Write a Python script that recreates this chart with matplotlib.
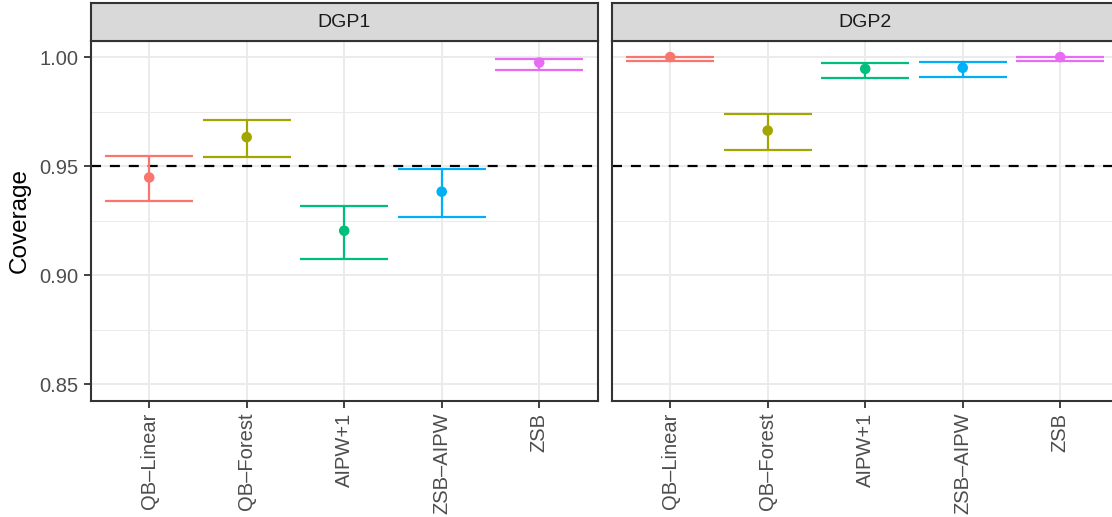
import numpy as np
import matplotlib
matplotlib.use("Agg")
import matplotlib.pyplot as plt

plt.rcParams['font.family'] = ['Liberation Sans', 'DejaVu Sans']

# data
methods = ['QB\u2013Linear', 'QB\u2013Forest', 'AIPW+1', 'ZSB\u2013AIPW', 'ZSB']
colors = ['#F8766D', '#A3A500', '#00BF7D', '#00B0F6', '#E76BF3']
panels = ['DGP1', 'DGP2']

dgp1_cov = [0.9448, 0.9633, 0.9204, 0.9383, 0.9975]
dgp1_lo = [0.9340, 0.9541, 0.9076, 0.9268, 0.9942]
dgp1_hi = [0.9546, 0.9712, 0.9318, 0.9485, 0.9992]

dgp2_cov = [1.0000, 0.9663, 0.9946, 0.9951, 1.0000]
dgp2_lo = [0.9980, 0.9575, 0.9902, 0.9908, 0.9980]
dgp2_hi = [1.0000, 0.9738, 0.9974, 0.9977, 0.9999]

nominal = 0.95
yticks = [0.85, 0.90, 0.95, 1.00]
yminor = [0.875, 0.925, 0.975]

W, H = 1112, 517
fig = plt.figure(figsize=(W / 100, H / 100), dpi=100)

def px(x0, y0, x1, y1):
    # pixel box (top-left origin) -> figure fraction rect
    return [x0 / W, 1 - y1 / H, (x1 - x0) / W, (y1 - y0) / H]

panel_x = [(90.7, 597.7), (611.7, 1118.7)]
top, bottom, strip_top = 40.7, 400.7, 2.7
data = [(dgp1_cov, dgp1_lo, dgp1_hi), (dgp2_cov, dgp2_lo, dgp2_hi)]

grid_c = '#EBEBEB'
border_c = '#333333'
lw = 1.6

for i, (name, (x0, x1), (cov, lo, hi)) in enumerate(zip(panels, panel_x, data)):
    ax = fig.add_axes(px(x0, top, x1, bottom))
    pos = np.arange(1, len(methods) + 1)
    ax.set_xlim(0.4, len(methods) + 0.6)
    ax.set_ylim(0.8425, 1.0075)

    for y in yticks:
        ax.axhline(y, color=grid_c, lw=1.4, zorder=0)
    for y in yminor:
        ax.axhline(y, color=grid_c, lw=0.75, zorder=0)
    for x in pos:
        ax.axvline(x, color=grid_c, lw=1.4, zorder=0)

    ax.axhline(nominal, color='black', lw=lw, linestyle=(0, (4.5, 4)), zorder=2)

    # error bars: stem + caps of width 0.9 (ggplot default)
    ax.vlines(pos, lo, hi, colors=colors, lw=lw, zorder=3)
    ax.hlines(lo, pos - 0.45, pos + 0.45, colors=colors, lw=lw, zorder=3)
    ax.hlines(hi, pos - 0.45, pos + 0.45, colors=colors, lw=lw, zorder=3)
    ax.scatter(pos, cov, s=7.6 ** 2, c=colors, edgecolors='none', zorder=4)

    ax.set_xticks(pos)
    ax.set_xticklabels(methods, rotation=90, fontsize=14.5, color='#4D4D4D',
                       va='top', ha='center')
    ax.set_yticks(yticks)
    if i == 0:
        ax.set_yticklabels(['%.2f' % v for v in yticks], fontsize=14.5,
                           color='#4D4D4D')
        ax.set_ylabel('Coverage', fontsize=17.5, color='black', labelpad=6)
    else:
        ax.tick_params(axis='y', left=False, labelleft=False)
    ax.tick_params(axis='both', length=4.7, width=1.3, color=border_c, pad=4)
    for s in ax.spines.values():
        s.set_color(border_c)
        s.set_linewidth(1.5)
        s.set_zorder(5)

    sx = fig.add_axes(px(x0, strip_top, x1, top))
    sx.set_xticks([])
    sx.set_yticks([])
    sx.set_facecolor('#D9D9D9')
    for s in sx.spines.values():
        s.set_color(border_c)
        s.set_linewidth(1.5)
    sx.text(0.5, 0.48, name, transform=sx.transAxes, ha='center',
            va='center', fontsize=14, color='#1A1A1A')

fig.savefig('out.png', dpi=100, facecolor='white')
